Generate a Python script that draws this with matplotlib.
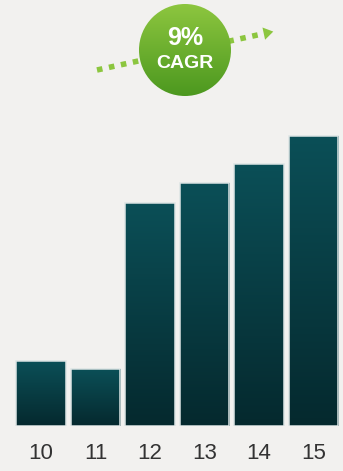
import numpy as np
import matplotlib
matplotlib.use("Agg")
import matplotlib.pyplot as plt
from matplotlib.patches import Rectangle, Circle
from matplotlib.colors import LinearSegmentedColormap

years = ["10", "11", "12", "13", "14", "15"]
values = [65, 57, 223, 243, 262, 290]
cagr_text = "9%"
cagr_label = "CAGR"

W, H = 343, 471
bg = "#f2f1ef"

fig = plt.figure(figsize=(W / 100, H / 100), dpi=100, facecolor=bg)

# bar axes: 1 y-unit = 1 px, baseline 45 px above the bottom edge
ax = fig.add_axes([0, 45 / H, 1, 426 / H])
ax.set_facecolor(bg)
ax.set_ylim(0, 426)
for s in ax.spines.values():
    s.set_visible(False)
ax.set_yticks([])

teal = LinearSegmentedColormap.from_list("teal", ["#05292e", "#0b4f57"])
grad = np.linspace(0, 1, 256).reshape(-1, 1)
bar_w = 0.91
for i, v in enumerate(values):
    x0 = i - bar_w / 2
    ax.imshow(grad, cmap=teal, origin="lower", aspect="auto",
              extent=(x0, x0 + bar_w, 0, v), zorder=2)
    ax.add_patch(Rectangle((x0, 0), bar_w, v, fill=False,
                           edgecolor="#dce4e4", linewidth=1.1, zorder=3))

ax.set_xticks(range(len(years)))
ax.set_xticklabels(years, fontsize=16, color="#333333",
                   family=["Liberation Sans Narrow", "Liberation Sans", "DejaVu Sans"])
ax.tick_params(axis="x", length=0, pad=12)
ax.set_xlim(-0.752, 5.54)

# overlay in pixel coordinates for the growth badge
ov = fig.add_axes([0, 0, 1, 1])
ov.axis("off")
ov.patch.set_alpha(0)

ov.plot([97, 262], [70, 34], linestyle=(0, (1, 1.2)), color="#8cc63f",
        linewidth=4, solid_capstyle="butt", zorder=1)
ov.annotate("", xy=(276, 31), xytext=(262, 34),
            arrowprops=dict(arrowstyle="-|>,head_length=0.7,head_width=0.45",
                            color="#8cc63f", lw=0), zorder=1)

cx, cy, r = 185, 50, 46
green = LinearSegmentedColormap.from_list("green", ["#8dc63f", "#4c981f"])
img = ov.imshow(np.linspace(0, 1, 256).reshape(-1, 1), cmap=green, aspect="auto",
                extent=(cx - r, cx + r, cy + r, cy - r), zorder=2)
img.set_clip_path(Circle((cx, cy), r, transform=ov.transData))
ov.set_xlim(0, W)
ov.set_ylim(H, 0)

ov.text(cx, cy - 12, cagr_text, ha="center", va="center", color="white",
        fontsize=18, fontweight="bold", family="Liberation Sans", zorder=3)
ov.text(cx, cy + 13, cagr_label, ha="center", va="center", color="white",
        fontsize=14, fontweight="bold", family="Liberation Sans", zorder=3)

fig.savefig("out.png", dpi=100, facecolor=bg)
